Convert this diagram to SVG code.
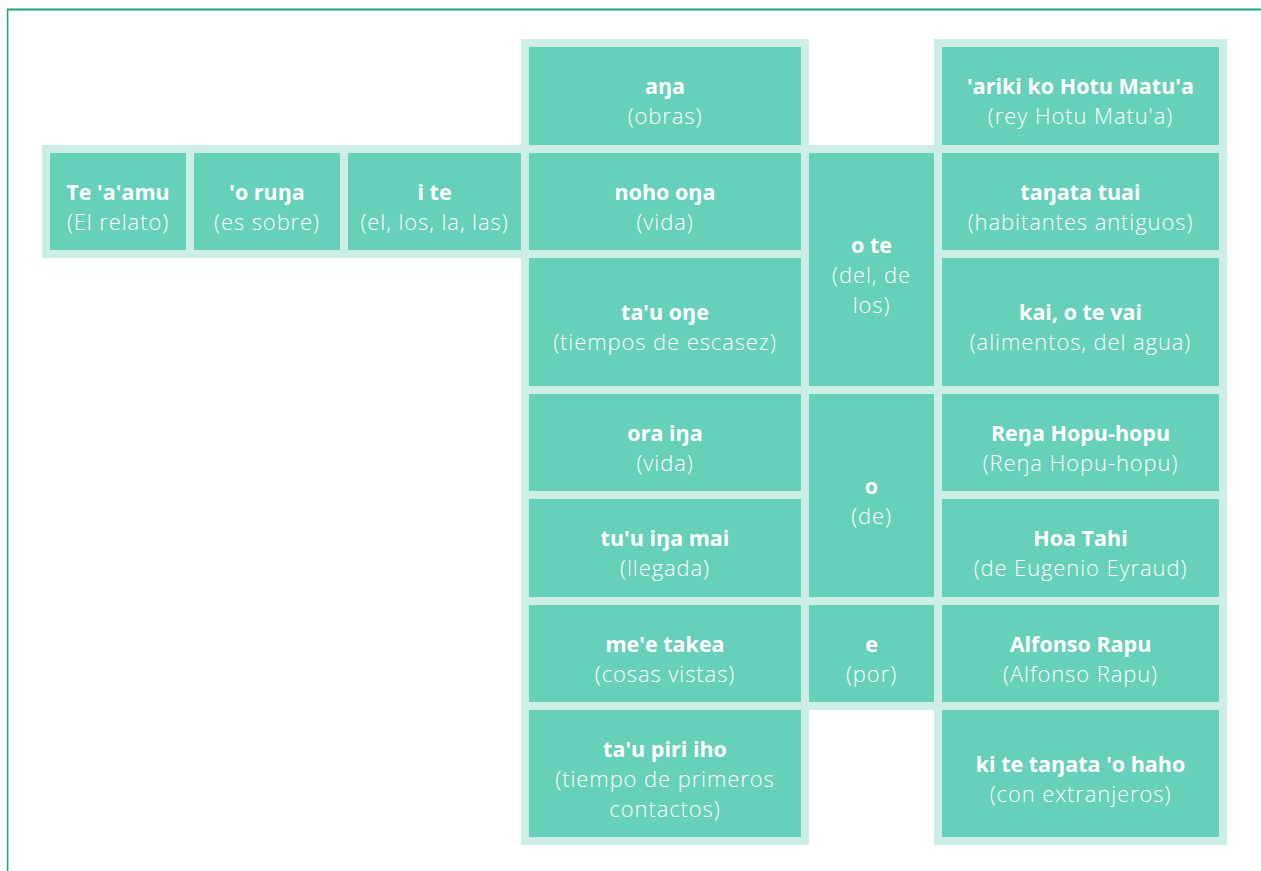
<svg xmlns="http://www.w3.org/2000/svg" width="1261" height="871" viewBox="0 0 1261 871">
  <style>
    .band { fill: #cdeee6; }
    .cell { fill: #67d0b9; }
    text { font-family: "Open Sans", "Noto Sans", "DejaVu Sans", sans-serif; font-size: 21px; fill: #ffffff; text-anchor: middle; }
    .t { font-weight: 700; font-size: 21.5px; }
    .s { font-weight: 300; font-size: 22px; letter-spacing: 0.9px; }
  </style>

  <!-- page frame -->
  <g id="frame">
    <line x1="7" y1="8.5" x2="1261" y2="8.5" stroke="#a6e0cc" stroke-width="1"/>
    <line x1="7.5" y1="9.6" x2="1261" y2="9.6" stroke="#1ca67d" stroke-width="1.6"/>
    <line x1="7.6" y1="9" x2="7.6" y2="871" stroke="#1ca67d" stroke-width="1.6"/>
  </g>

  <!-- light backing bands that form the grid lines -->
  <g id="bands">
    <rect class="band" x="42" y="145" width="487" height="113"/>
    <rect class="band" x="521" y="39" width="288" height="806"/>
    <rect class="band" x="801" y="145" width="141" height="565"/>
    <rect class="band" x="934" y="39" width="293" height="806"/>
  </g>

  <!-- connectors: none, the grid itself links the words -->
  <g id="connectors"/>

  <!-- sentence start row -->
  <g id="te-aamu">
    <rect class="cell" x="50" y="153" width="136" height="97"/>
    <text x="118" y="199.5"><tspan class="t">Te 'a'amu</tspan><tspan class="s" x="118" y="229.5">(El relato)</tspan></text>
  </g>
  <g id="o-runa">
    <rect class="cell" x="194" y="153" width="146" height="97"/>
    <text x="267" y="199.5"><tspan class="t">'o ruŋa</tspan><tspan class="s" x="267" y="229.5">(es sobre)</tspan></text>
  </g>
  <g id="i-te">
    <rect class="cell" x="348" y="153" width="173" height="97"/>
    <text x="434.5" y="199.5"><tspan class="t">i te</tspan><tspan class="s" x="434.5" y="229.5">(el, los, la, las)</tspan></text>
  </g>

  <!-- topics column -->
  <g id="ana">
    <rect class="cell" x="529" y="47" width="272" height="98"/>
    <text x="665" y="94"><tspan class="t">aŋa</tspan><tspan class="s" x="665" y="124">(obras)</tspan></text>
  </g>
  <g id="noho-ona">
    <rect class="cell" x="529" y="153" width="272" height="97"/>
    <text x="665" y="199.5"><tspan class="t">noho oŋa</tspan><tspan class="s" x="665" y="229.5">(vida)</tspan></text>
  </g>
  <g id="tau-one">
    <rect class="cell" x="529" y="258" width="272" height="128"/>
    <text x="665" y="320"><tspan class="t">ta'u oŋe</tspan><tspan class="s" x="665" y="350">(tiempos de escasez)</tspan></text>
  </g>
  <g id="ora-ina">
    <rect class="cell" x="529" y="394" width="272" height="97"/>
    <text x="665" y="440.5"><tspan class="t">ora iŋa</tspan><tspan class="s" x="665" y="470.5">(vida)</tspan></text>
  </g>
  <g id="tuu-ina-mai">
    <rect class="cell" x="529" y="499" width="272" height="98"/>
    <text x="665" y="546"><tspan class="t">tu'u iŋa mai</tspan><tspan class="s" x="665" y="576">(llegada)</tspan></text>
  </g>
  <g id="mee-takea">
    <rect class="cell" x="529" y="605" width="272" height="97"/>
    <text x="665" y="651.5"><tspan class="t">me'e takea</tspan><tspan class="s" x="665" y="681.5">(cosas vistas)</tspan></text>
  </g>
  <g id="tau-piri-iho">
    <rect class="cell" x="529" y="710" width="272" height="127"/>
    <text x="665" y="757"><tspan class="t">ta'u piri iho</tspan><tspan class="s" x="665" y="787">(tiempo de primeros</tspan><tspan class="s" x="665" y="817">contactos)</tspan></text>
  </g>

  <!-- linking particles -->
  <g id="o-te">
    <rect class="cell" x="809" y="153" width="125" height="233"/>
    <text x="871.5" y="253"><tspan class="t">o te</tspan><tspan class="s" x="871.5" y="283">(del, de</tspan><tspan class="s" x="871.5" y="313">los)</tspan></text>
  </g>
  <g id="o">
    <rect class="cell" x="809" y="394" width="125" height="203"/>
    <text x="871.5" y="494"><tspan class="t">o</tspan><tspan class="s" x="871.5" y="524">(de)</tspan></text>
  </g>
  <g id="e">
    <rect class="cell" x="809" y="605" width="125" height="97"/>
    <text x="871.5" y="652"><tspan class="t">e</tspan><tspan class="s" x="871.5" y="682">(por)</tspan></text>
  </g>

  <!-- subjects column -->
  <g id="ariki">
    <rect class="cell" x="942" y="47" width="277" height="98"/>
    <text x="1080.5" y="94"><tspan class="t">'ariki ko Hotu Matu'a</tspan><tspan class="s" x="1080.5" y="124">(rey Hotu Matu'a)</tspan></text>
  </g>
  <g id="tanata-tuai">
    <rect class="cell" x="942" y="153" width="277" height="97"/>
    <text x="1080.5" y="199.5"><tspan class="t">taŋata tuai</tspan><tspan class="s" x="1080.5" y="229.5">(habitantes antiguos)</tspan></text>
  </g>
  <g id="kai">
    <rect class="cell" x="942" y="258" width="277" height="128"/>
    <text x="1080.5" y="320"><tspan class="t">kai, o te vai</tspan><tspan class="s" x="1080.5" y="350">(alimentos, del agua)</tspan></text>
  </g>
  <g id="rena">
    <rect class="cell" x="942" y="394" width="277" height="97"/>
    <text x="1080.5" y="440.5"><tspan class="t">Reŋa Hopu-hopu</tspan><tspan class="s" x="1080.5" y="470.5">(Reŋa Hopu-hopu)</tspan></text>
  </g>
  <g id="hoa-tahi">
    <rect class="cell" x="942" y="499" width="277" height="98"/>
    <text x="1080.5" y="546"><tspan class="t">Hoa Tahi</tspan><tspan class="s" x="1080.5" y="576">(de Eugenio Eyraud)</tspan></text>
  </g>
  <g id="alfonso">
    <rect class="cell" x="942" y="605" width="277" height="97"/>
    <text x="1080.5" y="651.5"><tspan class="t">Alfonso Rapu</tspan><tspan class="s" x="1080.5" y="681.5">(Alfonso Rapu)</tspan></text>
  </g>
  <g id="ki-te">
    <rect class="cell" x="942" y="710" width="277" height="127"/>
    <text x="1080.5" y="771.5"><tspan class="t">ki te taŋata 'o haho</tspan><tspan class="s" x="1080.5" y="801.5">(con extranjeros)</tspan></text>
  </g>
</svg>
